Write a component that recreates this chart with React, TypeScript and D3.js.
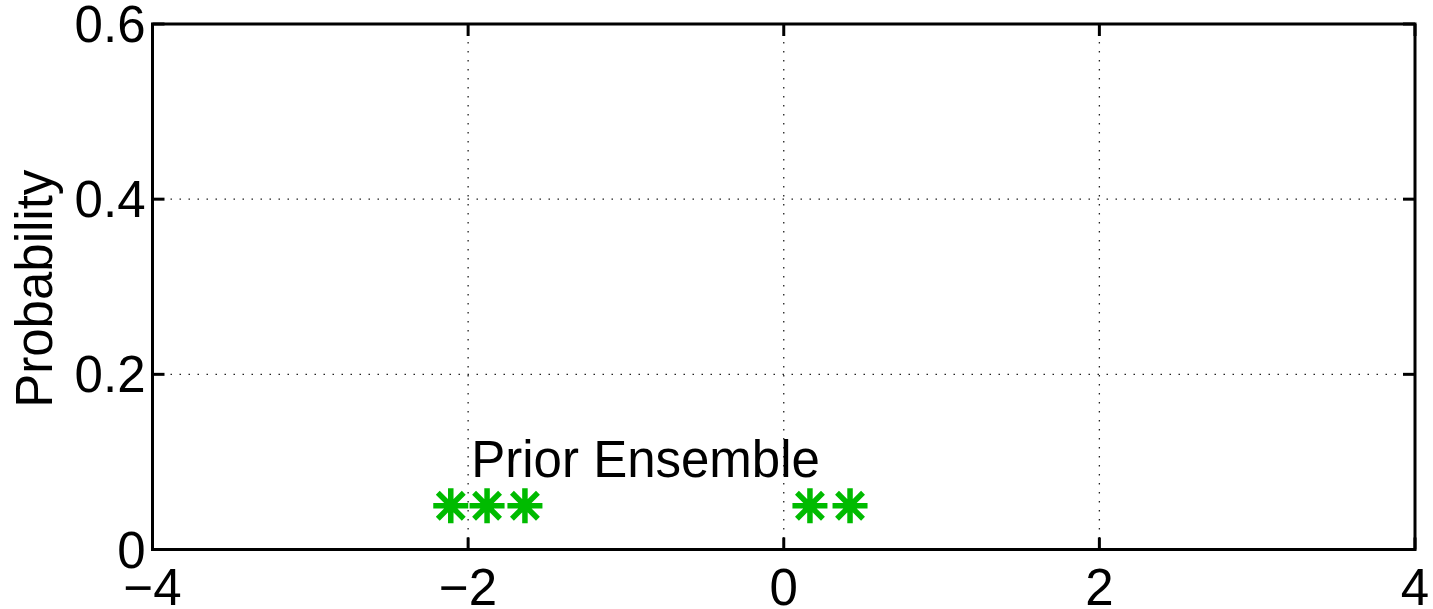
import React, { useEffect, useRef } from "react";
import * as d3 from "d3";

const xTicks = [-4, -2, 0, 2, 4];
const yTicks = [0, 0.2, 0.4, 0.6];
const yTickLabels = ["0", "0.2", "0.4", "0.6"];
const ensembleX = [-2.11, -1.88, -1.64, 0.166, 0.42];
const ensembleY = [0.05, 0.05, 0.05, 0.05, 0.05];
const annotation = { text: "Prior Ensemble", x: -1.98, y: 0.083 };

export default function App() {
  const ref = useRef<SVGSVGElement>(null);

  useEffect(() => {
    const width = 1433;
    const height = 609;
    const margin = { top: 24, left: 152.5, bottom: 59.5, right: 18 };
    const iwidth = width - margin.left - margin.right;
    const iheight = height - margin.top - margin.bottom;
    const font = "'Liberation Sans', Arial, Helvetica, sans-serif";
    const fs = 51;

    const svg = d3.select(ref.current);
    svg.selectAll("*").remove();

    const g = svg.append("g").attr("transform", `translate(${margin.left}, ${margin.top})`);

    const x = d3.scaleLinear().domain([-4, 4]).range([0, iwidth]);
    const y = d3.scaleLinear().domain([0, 0.6]).range([iheight, 0]);

    // dotted grid
    g.selectAll(".gx")
      .data(xTicks.slice(1, -1))
      .enter()
      .append("line")
      .attr("x1", d => x(d))
      .attr("x2", d => x(d))
      .attr("y1", 0)
      .attr("y2", iheight)
      .attr("stroke", "#222")
      .attr("stroke-width", 1.3)
      .attr("stroke-dasharray", "1.5,7.5");

    g.selectAll(".gy")
      .data(yTicks.slice(1, -1))
      .enter()
      .append("line")
      .attr("x1", 0)
      .attr("x2", iwidth)
      .attr("y1", d => y(d))
      .attr("y2", d => y(d))
      .attr("stroke", "#222")
      .attr("stroke-width", 1.3)
      .attr("stroke-dasharray", "1.5,7.5");

    // tick marks, inside, on all four sides
    const tl = 12;
    xTicks.forEach(t => {
      g.append("line").attr("x1", x(t)).attr("x2", x(t)).attr("y1", iheight).attr("y2", iheight - tl)
        .attr("stroke", "black").attr("stroke-width", 3);
      g.append("line").attr("x1", x(t)).attr("x2", x(t)).attr("y1", 0).attr("y2", tl)
        .attr("stroke", "black").attr("stroke-width", 3);
    });
    yTicks.forEach(t => {
      g.append("line").attr("x1", 0).attr("x2", tl).attr("y1", y(t)).attr("y2", y(t))
        .attr("stroke", "black").attr("stroke-width", 3);
      g.append("line").attr("x1", iwidth).attr("x2", iwidth - tl).attr("y1", y(t)).attr("y2", y(t))
        .attr("stroke", "black").attr("stroke-width", 3);
    });

    // box
    g.append("rect")
      .attr("x", 0)
      .attr("y", 0)
      .attr("width", iwidth)
      .attr("height", iheight)
      .attr("fill", "none")
      .attr("stroke", "black")
      .attr("stroke-width", 3);

    // tick labels
    g.selectAll(".xl")
      .data(xTicks)
      .enter()
      .append("text")
      .attr("x", d => x(d))
      .attr("y", iheight + 55)
      .attr("text-anchor", "middle")
      .attr("font-family", font)
      .attr("font-size", fs)
      .text(d => (d < 0 ? "\u2212" + Math.abs(d) : String(d)));

    g.selectAll(".yl")
      .data(yTicks)
      .enter()
      .append("text")
      .attr("x", -7)
      .attr("y", d => y(d) + 18)
      .attr("text-anchor", "end")
      .attr("font-family", font)
      .attr("font-size", fs)
      .text((d, i) => yTickLabels[i]);

    svg.append("text")
      .attr("transform", `translate(52, ${margin.top + iheight / 2 + 2}) rotate(-90)`)
      .attr("text-anchor", "middle")
      .attr("font-family", font)
      .attr("font-size", fs)
      .text("Probability");

    // ensemble members, asterisk markers
    const arm = 17.5;
    const diag = 13;
    const pts = g.selectAll(".pt")
      .data(ensembleX.map((v, i) => [v, ensembleY[i]]))
      .enter()
      .append("g")
      .attr("transform", d => `translate(${x(d[0])}, ${y(d[1])})`);
    pts.append("path")
      .attr("d", `M${-arm},0H${arm}M0,${-arm}V${arm}M${-diag},${-diag}L${diag},${diag}M${-diag},${diag}L${diag},${-diag}`)
      .attr("stroke", "#00bb00")
      .attr("stroke-width", 5.5)
      .attr("fill", "none");

    g.append("text")
      .attr("x", x(annotation.x))
      .attr("y", y(annotation.y))
      .attr("font-family", font)
      .attr("font-size", fs)
      .text(annotation.text);
  }, []);

  return (
    <svg
      ref={ref}
      width={1433}
      height={609}
      style={{ position: "absolute", left: 0, top: 0, background: "white" }}
    />
  );
}
